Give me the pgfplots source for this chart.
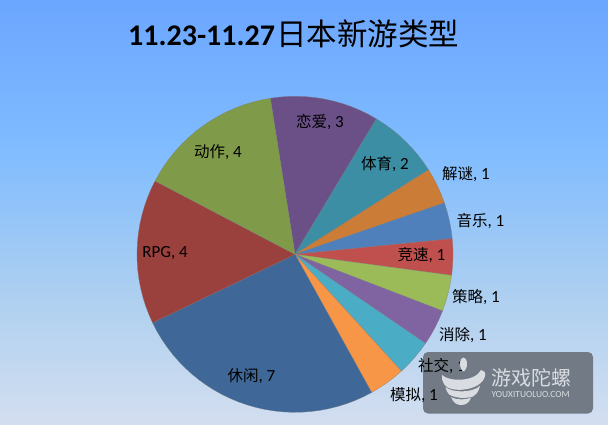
\documentclass[border=0pt]{standalone}
\usepackage{fontspec}
\usepackage{pgfplots}
\pgfplotsset{compat=1.18}
\usepgfplotslibrary{polar}
\setmainfont{Carlito}
\newfontfamily\cjk{Noto Sans CJK SC}

\definecolor{xiuxian}{HTML}{3F6797}
\definecolor{moni}{HTML}{F79646}
\definecolor{shejiao}{HTML}{4BACC6}
\definecolor{xiaochu}{HTML}{8064A2}
\definecolor{celue}{HTML}{9BBB59}
\definecolor{jingsu}{HTML}{C0504D}
\definecolor{yinyue}{HTML}{4F80BC}
\definecolor{jiemi}{HTML}{CB7C37}
\definecolor{tiyu}{HTML}{3B8EA4}
\definecolor{lianai}{HTML}{6A5087}
\definecolor{dongzuo}{HTML}{7F9A48}
\definecolor{rpg}{HTML}{9A403D}
\definecolor{bgA}{HTML}{6BA6FF}
\definecolor{bgB}{HTML}{80BCFF}
\definecolor{bgC}{HTML}{AFD0F0}
\definecolor{bgD}{HTML}{D3DEF0}
\definecolor{logo}{HTML}{D9DDE1}
\definecolor{wmark}{HTML}{6E7781}

% 75bp = top of the page, 25bp = bottom
\pgfdeclareverticalshading{pagebg}{100bp}{color(0bp)=(bgD); color(25bp)=(bgD);
  color(39.6bp)=(bgC); color(57.3bp)=(bgB); color(75bp)=(bgA); color(100bp)=(bgA)}

\pgfplotsset{slice/.style={fill=#1, draw=gray!70!#1, line width=0.3pt}}
% label centred at image pixel position
\newcommand{\lab}[4]{\node[font=\fontsize{17}{17}\selectfont, inner sep=0pt] at (#1,#2+1)
  {{\cjk\fontsize{15.5}{15.5}\selectfont #3}, #4};}

\begin{document}
\begin{tikzpicture}[x=1pt,y=1pt]
\shade[shading=pagebg] (0,0) rectangle (608,424);

% 27 titles: 7 1 1 1 1 1 1 1 2 3 4 4, 13.33 degrees each, clockwise from 99
\begin{polaraxis}[
    at={(295pt,169.7pt)}, anchor=center,
    scale only axis, width=316pt, height=316pt,
    hide axis, clip=false,
    ymin=0, ymax=1,
]
  % lianai, 3
  \addplot[slice=lianai] coordinates {(0,0) (99,1) (95.67,1) (92.33,1) (89,1) (85.67,1) (82.33,1) (79,1) (75.67,1) (72.33,1) (69,1) (65.67,1) (62.33,1) (59,1) (0,0)};
  % tiyu, 2
  \addplot[slice=tiyu] coordinates {(0,0) (59,1) (55.67,1) (52.33,1) (49,1) (45.67,1) (42.33,1) (39,1) (35.67,1) (32.33,1) (0,0)};
  % jiemi, 1
  \addplot[slice=jiemi] coordinates {(0,0) (32.33,1) (29,1) (25.67,1) (22.33,1) (19,1) (0,0)};
  % yinyue, 1
  \addplot[slice=yinyue] coordinates {(0,0) (19,1) (15.67,1) (12.33,1) (9,1) (5.67,1) (0,0)};
  % jingsu, 1
  \addplot[slice=jingsu] coordinates {(0,0) (5.67,1) (2.33,1) (-1,1) (-4.33,1) (-7.67,1) (0,0)};
  % celue, 1
  \addplot[slice=celue] coordinates {(0,0) (-7.67,1) (-11,1) (-14.33,1) (-17.67,1) (-21,1) (0,0)};
  % xiaochu, 1
  \addplot[slice=xiaochu] coordinates {(0,0) (-21,1) (-24.33,1) (-27.67,1) (-31,1) (-34.33,1) (0,0)};
  % shejiao, 1
  \addplot[slice=shejiao] coordinates {(0,0) (-34.33,1) (-37.67,1) (-41,1) (-44.33,1) (-47.67,1) (0,0)};
  % moni, 1
  \addplot[slice=moni] coordinates {(0,0) (-47.67,1) (-51,1) (-54.33,1) (-57.67,1) (-61,1) (0,0)};
  % xiuxian, 7
  \addplot[slice=xiuxian] coordinates {(0,0) (-61,1) (-64.33,1) (-67.67,1) (-71,1) (-74.33,1) (-77.67,1) (-81,1) (-84.33,1) (-87.67,1) (-91,1) (-94.33,1) (-97.67,1) (-101,1) (-104.33,1) (-107.67,1) (-111,1) (-114.33,1) (-117.67,1) (-121,1) (-124.33,1) (-127.67,1) (-131,1) (-134.33,1) (-137.67,1) (-141,1) (-144.33,1) (-147.67,1) (-151,1) (-154.33,1) (0,0)};
  % rpg, 4
  \addplot[slice=rpg] coordinates {(0,0) (-154.33,1) (-157.67,1) (-161,1) (-164.33,1) (-167.67,1) (-171,1) (-174.33,1) (-177.67,1) (-181,1) (-184.33,1) (-187.67,1) (-191,1) (-194.33,1) (-197.67,1) (-201,1) (-204.33,1) (-207.67,1) (0,0)};
  % dongzuo, 4
  \addplot[slice=dongzuo] coordinates {(0,0) (-207.67,1) (-211,1) (-214.33,1) (-217.67,1) (-221,1) (-224.33,1) (-227.67,1) (-231,1) (-234.33,1) (-237.67,1) (-241,1) (-244.33,1) (-247.67,1) (-251,1) (-254.33,1) (-257.67,1) (-261,1) (0,0)};
\end{polaraxis}

% overlay in image pixels, y downwards
\begin{scope}[shift={(0,424)}, y=-1pt]
  \node[anchor=base west, inner sep=0pt, font=\fontsize{30}{30}\selectfont] at (128,46)
    {\textbf{11.23-11.27}\hspace{1pt}{\cjk\fontsize{30.5}{30.5}\selectfont 日本新游类型}};

  \lab{320}{121}{恋爱}{3}
  \lab{385}{163}{体育}{2}
  \lab{218}{151}{动作}{4}
  \node[font=\fontsize{17}{17}\selectfont, inner sep=0pt] at (165,253) {RPG, 4};
  \lab{251.5}{375}{休闲}{7}
  \lab{466}{173}{解谜}{1}
  \lab{480.5}{220}{音乐}{1}
  \lab{421.5}{254}{竞速}{1}
  \lab{476}{296}{策略}{1}
  \lab{463}{334}{消除}{1}

  % watermark, the two low labels stay visible on it
  \fill[wmark, opacity=0.96, rounded corners=5pt] (423,352) rectangle (593,413.5);
  \lab{442}{365}{社交}{1}
  \lab{414}{394}{模拟}{1}
  \fill[logo] (462.5,371) .. controls (458,365) and (460,358) .. (463.5,357.5) .. controls (467,358) and (469,365) .. (464.5,371) -- cycle;
  \fill[logo] (442,375) .. controls (449,382) and (475,382) .. (481,370) .. controls (486,372) and (486,374) .. (485,376)
     .. controls (482,391) and (449,394) .. (444,384) .. controls (442,381) and (441.5,378) .. (442,375) -- cycle;
  \fill[logo] (445.5,387) .. controls (452,393) and (472,393) .. (480,386) .. controls (478,393) and (476,395) .. (473,396.5)
     .. controls (465,399) and (455,398) .. (449,394.5) .. controls (447,392) and (446,390) .. (445.5,387) -- cycle;
  \fill[logo] (451,397) .. controls (456,400) and (466,400) .. (471,397.5) .. controls (469,403) and (466,405) .. (461,405) .. controls (456,405) and (453,402) .. (451,397) -- cycle;
  \node[anchor=west, inner sep=0pt, text=logo, font=\fontsize{20}{20}\selectfont\cjk] at (491,377.5) {游戏陀螺};
  \node[anchor=west, inner sep=0pt, text=logo, font=\fontsize{9.4}{9.4}\selectfont] at (491.5,394.5) {YOUXITUOLUO.COM};
\end{scope}
\end{tikzpicture}
\end{document}
